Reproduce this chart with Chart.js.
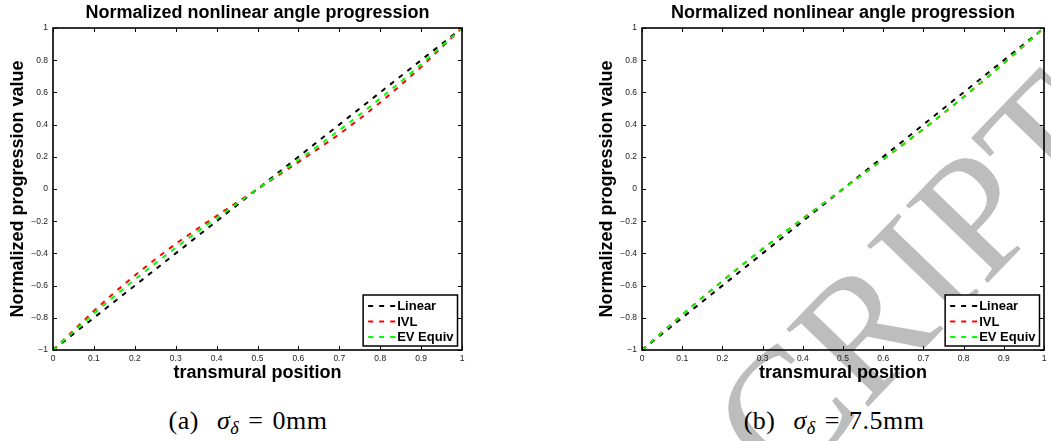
<!DOCTYPE html>
<html>
<head>
<meta charset="utf-8">
<script src="https://cdn.jsdelivr.net/npm/chart.js@4.4.0/dist/chart.umd.min.js"></script>
<style>
html, body { margin: 0; padding: 0; background: #fff; }
#page { position: relative; width: 1051px; height: 441px; overflow: hidden; }
canvas { position: absolute; top: 0; z-index: 1; }
.caption {
    position: absolute; top: 408px; line-height: 26px; z-index: 2;
    font-family: "Liberation Serif", "Times New Roman", serif; font-size: 26px;
    letter-spacing: 0.5px; word-spacing: 2px;
    transform: translateX(-50%); white-space: nowrap; color: #000;
}
.caption sub { font-size: 0.7em; vertical-align: -0.3em; line-height: 0; }
.watermark {
    position: absolute; left: 912px; top: 278px; z-index: 0;
    font-family: "Liberation Serif", "Times New Roman", serif; font-size: 172px; line-height: 1;
    color: #bdbdbd; white-space: nowrap;
    transform: translate(-50%, -50%) rotate(-46deg);
}
</style>
</head>
<body>
<div id="page">
    <div class="watermark">CRIPT</div>
    <canvas id="chartA" width="520" height="383" style="left:0px"></canvas>
    <canvas id="chartB" width="513" height="383" style="left:589px"></canvas>
    <div class="caption" style="left:248px">(a)&nbsp; <i>σ</i><sub><i>δ</i></sub> = 0mm</div>
    <div class="caption" style="left:834px">(b)&nbsp; <i>σ</i><sub><i>δ</i></sub> = 7.5mm</div>
</div>
<script>
// transmural positions (x) and progression values
const xPos = [0, 0.05, 0.1, 0.15, 0.2, 0.25, 0.3, 0.35, 0.4, 0.45, 0.5,
              0.55, 0.6, 0.65, 0.7, 0.75, 0.8, 0.85, 0.9, 0.95, 1];
const linearVals = [-1, -0.9, -0.8, -0.7, -0.6, -0.5, -0.4, -0.3, -0.2, -0.1, 0,
                    0.1, 0.2, 0.3, 0.4, 0.5, 0.6, 0.7, 0.8, 0.9, 1];
// (a) sigma = 0mm
const ivlA = [-1, -0.879, -0.757, -0.644, -0.537, -0.436, -0.341, -0.252, -0.167, -0.083, 0,
              0.083, 0.167, 0.252, 0.341, 0.436, 0.537, 0.644, 0.757, 0.879, 1];
const evA = [-1, -0.887, -0.774, -0.666, -0.562, -0.462, -0.365, -0.271, -0.180, -0.090, 0,
             0.090, 0.180, 0.271, 0.365, 0.462, 0.562, 0.666, 0.774, 0.887, 1];
// (b) sigma = 7.5mm
const ivlB = [-1, -0.890, -0.781, -0.675, -0.571, -0.470, -0.372, -0.277, -0.184, -0.092, 0,
              0.092, 0.184, 0.277, 0.372, 0.470, 0.571, 0.675, 0.781, 0.890, 1];
const evB = [-1, -0.891, -0.782, -0.676, -0.572, -0.471, -0.373, -0.278, -0.185, -0.092, 0,
             0.092, 0.185, 0.278, 0.373, 0.471, 0.572, 0.676, 0.782, 0.891, 1];

const xTicks = [0, 0.1, 0.2, 0.3, 0.4, 0.5, 0.6, 0.7, 0.8, 0.9, 1];
const xTickLabels = ['0', '0.1', '0.2', '0.3', '0.4', '0.5', '0.6', '0.7', '0.8', '0.9', '1'];
const yTicks = [-1, -0.8, -0.6, -0.4, -0.2, 0, 0.2, 0.4, 0.6, 0.8, 1];
const yTickLabels = ['\u22121', '\u22120.8', '\u22120.6', '\u22120.4', '\u22120.2', '0',
                     '0.2', '0.4', '0.6', '0.8', '1'];

const seriesLabels = ['Linear', 'IVL', 'EV Equiv'];
const seriesColors = ['#000000', '#ff0000', '#00ff00'];

const FONT = '"Liberation Sans", Arial, Helvetica, sans-serif';

// matlab style box with inward ticks on all four sides
const matlabBox = {
    id: 'matlabBox',
    afterDatasetsDraw(chart) {
        const {ctx, chartArea: a, scales: {x, y}} = chart;
        ctx.save();
        ctx.strokeStyle = '#000';
        ctx.lineWidth = 1;
        ctx.beginPath();
        xTicks.forEach(function (v) {
            const px = Math.round(x.getPixelForValue(v)) + 0.5;
            ctx.moveTo(px, a.bottom); ctx.lineTo(px, a.bottom - 4);
            ctx.moveTo(px, a.top); ctx.lineTo(px, a.top + 4);
        });
        yTicks.forEach(function (v) {
            const py = Math.round(y.getPixelForValue(v)) + 0.5;
            ctx.moveTo(a.left, py); ctx.lineTo(a.left + 4, py);
            ctx.moveTo(a.right, py); ctx.lineTo(a.right - 4, py);
        });
        ctx.stroke();
        ctx.lineWidth = 1.6;
        ctx.strokeRect(a.left, a.top, a.right - a.left, a.bottom - a.top);
        ctx.restore();
    }
};

// boxed legend in the lower right corner
const boxLegend = {
    id: 'boxLegend',
    afterDraw(chart) {
        const {ctx, chartArea: a} = chart;
        const sets = chart.data.datasets;
        ctx.save();
        ctx.font = 'bold 13px ' + FONT;
        let textW = 0;
        sets.forEach(function (d) { textW = Math.max(textW, ctx.measureText(d.label).width); });
        const w = 5 + 27 + 2 + textW + 4;
        const h = 51;
        const left = a.right - 4.5 - w;
        const top = a.bottom - 4 - h;
        ctx.fillStyle = '#fff';
        ctx.fillRect(left, top, w, h);
        ctx.lineWidth = 1.5;
        ctx.strokeStyle = '#000';
        ctx.strokeRect(left, top, w, h);
        sets.forEach(function (d, i) {
            const cy = top + 11 + i * 15.5;
            ctx.setLineDash([5, 6]);
            ctx.lineWidth = 2;
            ctx.strokeStyle = d.borderColor;
            ctx.beginPath();
            ctx.moveTo(left + 5, cy);
            ctx.lineTo(left + 32, cy);
            ctx.stroke();
            ctx.setLineDash([]);
            ctx.fillStyle = '#000';
            ctx.textBaseline = 'middle';
            ctx.fillText(d.label, left + 34, cy + 0.5);
        });
        ctx.restore();
    }
};

function points(vals) {
    return xPos.map(function (x, i) { return {x: x, y: vals[i]}; });
}

function makePanel(id, ivl, ev) {
    const series = [linearVals, ivl, ev];
    return new Chart(document.getElementById(id), {
        type: 'line',
        data: {
            datasets: series.map(function (vals, i) {
                return {
                    label: seriesLabels[i],
                    data: points(vals),
                    borderColor: seriesColors[i],
                    order: 2 - i
                };
            })
        },
        options: {
            responsive: false,
            animation: false,
            layout: {padding: {left: 0, right: 58, top: 0, bottom: 0}},
            elements: {
                point: {radius: 0},
                line: {borderWidth: 2, borderDash: [5, 6], tension: 0, fill: false}
            },
            plugins: {
                legend: {display: false},
                tooltip: {enabled: false},
                title: {
                    display: true,
                    fullSize: false,
                    text: 'Normalized nonlinear angle progression',
                    color: '#000',
                    font: {family: FONT, size: 18, weight: 'bold', lineHeight: 1},
                    padding: {top: 4, bottom: 6}
                }
            },
            scales: {
                x: {
                    type: 'linear', min: 0, max: 1,
                    grid: {display: false, drawTicks: false}, border: {display: false},
                    afterBuildTicks: function (s) { s.ticks = xTicks.map(function (v) { return {value: v}; }); },
                    afterFit: function (s) { s.height = 33; },
                    ticks: {
                        font: {family: FONT, size: 8.5}, color: '#222', padding: 4,
                        maxRotation: 0, autoSkip: false,
                        callback: function (v, i) { return xTickLabels[i]; }
                    },
                    title: {
                        display: true, text: 'transmural position', color: '#000',
                        font: {family: FONT, size: 18, weight: 'bold', lineHeight: 1},
                        padding: {top: 0, bottom: 1}
                    }
                },
                y: {
                    type: 'linear', min: -1, max: 1,
                    grid: {display: false, drawTicks: false}, border: {display: false},
                    afterBuildTicks: function (s) { s.ticks = yTicks.map(function (v) { return {value: v}; }); },
                    afterFit: function (s) { s.width = 53; },
                    ticks: {
                        font: {family: FONT, size: 8.5}, color: '#222', padding: 5,
                        autoSkip: false,
                        callback: function (v, i) { return yTickLabels[i]; }
                    },
                    title: {
                        display: true, text: 'Normalized progression value', color: '#000',
                        font: {family: FONT, size: 18, weight: 'bold', lineHeight: 1},
                        padding: {top: 9, bottom: 0}
                    }
                }
            }
        },
        plugins: [matlabBox, boxLegend]
    });
}

makePanel('chartA', ivlA, evA);
makePanel('chartB', ivlB, evB);
</script>
</body>
</html>
